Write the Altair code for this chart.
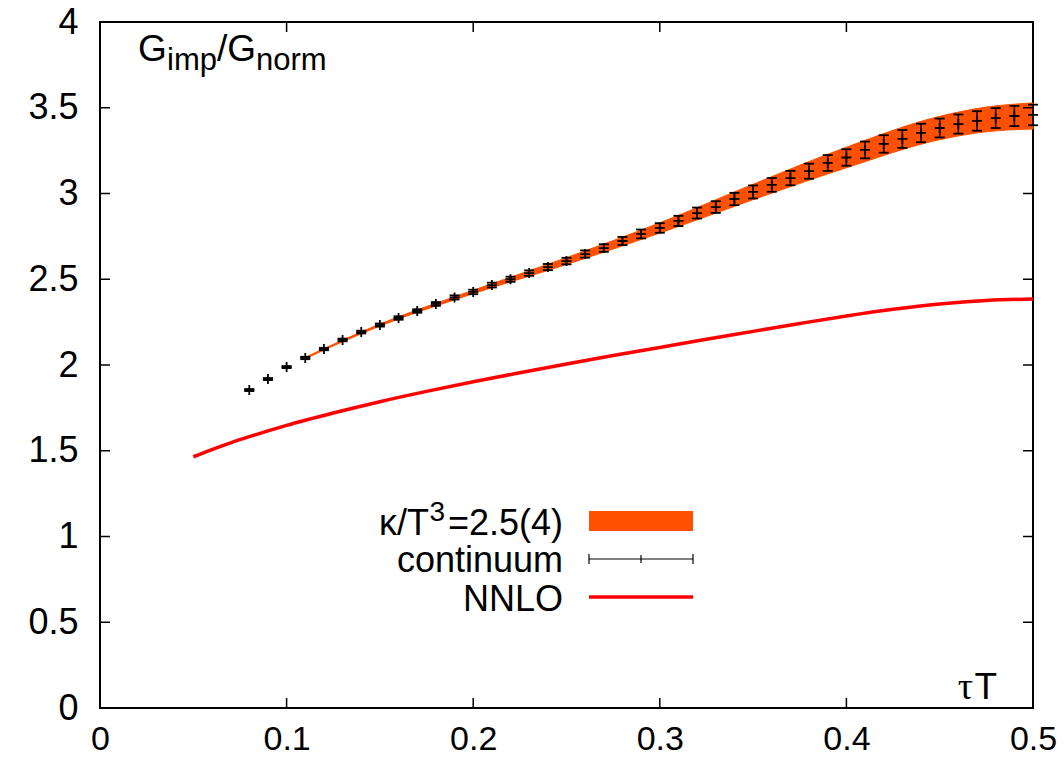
import altair as alt
import pandas as pd

# ---- data ----
tau = [0.08, 0.09, 0.10, 0.11, 0.12, 0.13, 0.14, 0.15, 0.16, 0.17, 0.18, 0.19, 0.20,
       0.21, 0.22, 0.23, 0.24, 0.25, 0.26, 0.27, 0.28, 0.29, 0.30,
       0.31, 0.32, 0.33, 0.34, 0.35, 0.36, 0.37, 0.38, 0.39, 0.40,
       0.41, 0.42, 0.43, 0.44, 0.45, 0.46, 0.47, 0.48, 0.49, 0.50]
g_cont = [1.854, 1.918, 1.988, 2.041, 2.093, 2.146, 2.192, 2.233, 2.274, 2.315, 2.356, 2.394, 2.426,
          2.466, 2.500, 2.536, 2.571, 2.606, 2.647, 2.682, 2.723, 2.764, 2.799,
          2.840, 2.886, 2.921, 2.968, 3.009, 3.050, 3.090, 3.130, 3.178, 3.210,
          3.254, 3.289, 3.318, 3.353, 3.382, 3.405, 3.423, 3.440, 3.452, 3.458]
g_err = [0.006, 0.006, 0.006, 0.007, 0.007, 0.008, 0.008, 0.009, 0.010, 0.010, 0.011, 0.012, 0.013,
         0.014, 0.015, 0.016, 0.018, 0.019, 0.021, 0.022, 0.024, 0.026, 0.028,
         0.030, 0.032, 0.034, 0.036, 0.038, 0.040, 0.042, 0.044, 0.046, 0.048,
         0.049, 0.051, 0.052, 0.054, 0.055, 0.056, 0.057, 0.058, 0.059, 0.060]

band_tau = [0.11, 0.15, 0.20, 0.25, 0.30, 0.35, 0.40, 0.45, 0.475, 0.50]
band_lo = [2.037, 2.227, 2.416, 2.586, 2.769, 2.964, 3.150, 3.314, 3.360, 3.376]
band_hi = [2.045, 2.239, 2.436, 2.626, 2.829, 3.054, 3.270, 3.450, 3.504, 3.528]

nnlo_tau = [0.05, 0.06, 0.07, 0.08, 0.09, 0.10, 0.125, 0.15, 0.175, 0.20, 0.225, 0.25,
            0.275, 0.30, 0.325, 0.35, 0.375, 0.40, 0.425, 0.45, 0.475, 0.50]
nnlo_g = [1.465, 1.507, 1.546, 1.582, 1.616, 1.648, 1.720, 1.786, 1.846, 1.902, 1.955, 2.006,
          2.055, 2.102, 2.150, 2.196, 2.242, 2.286, 2.325, 2.356, 2.376, 2.385]

x_tick_values = [0, 0.1, 0.2, 0.3, 0.4, 0.5]
y_tick_values = [0, 0.5, 1, 1.5, 2, 2.5, 3, 3.5, 4]
x_inner_ticks = [0.1, 0.2, 0.3, 0.4]
y_inner_ticks = [0.5, 1, 1.5, 2, 2.5, 3, 3.5]

# ---- tables ----
pts = pd.DataFrame({"tau": tau, "g": g_cont, "err": g_err})
pts["lo"] = pts["g"] - pts["err"]
pts["hi"] = pts["g"] + pts["err"]
band = pd.DataFrame({"tau": band_tau, "lo": band_lo, "hi": band_hi})
nnlo = pd.DataFrame({"tau": nnlo_tau, "g": nnlo_g})
xt = pd.DataFrame({"v": x_inner_ticks})
yt = pd.DataFrame({"v": y_inner_ticks})
one = pd.DataFrame({"a": [0]})

W, H = 933, 686
FONT = "Liberation Sans"

xscale = alt.Scale(domain=[0, 0.5], nice=False, zero=False)
yscale = alt.Scale(domain=[0, 4], nice=False, zero=False)

xaxis = alt.Axis(values=x_tick_values, format="~g", ticks=False, domain=False, grid=False,
                 title=None, labelFontSize=34, labelFont=FONT, labelColor="black",
                 labelPadding=14, labelFlush=False, labelOverlap=False)
yaxis = alt.Axis(values=y_tick_values, format="~g", ticks=False, domain=False, grid=False,
                 title=None, labelFontSize=36, labelFont=FONT, labelColor="black",
                 labelPadding=22, labelFlush=False, labelOverlap=False)

X = alt.X("tau:Q", scale=xscale, axis=xaxis)

band_layer = alt.Chart(band).mark_area(color="#ff5000", interpolate="monotone",
                                       stroke="#ff5000", strokeWidth=1).encode(
    x=X, y=alt.Y("lo:Q", scale=yscale, axis=yaxis), y2="hi:Q")

nnlo_layer = alt.Chart(nnlo).mark_line(color="#ff0000", strokeWidth=3.5,
                                       interpolate="monotone").encode(
    x="tau:Q", y="g:Q")

err_rule = alt.Chart(pts).mark_rule(color="black", strokeWidth=1.5).encode(
    x="tau:Q", y="lo:Q", y2="hi:Q")
cap_lo = alt.Chart(pts).mark_point(shape="M-1,0L1,0", size=100, filled=False,
                                   color="black", strokeWidth=1.8, opacity=1).encode(
    x="tau:Q", y="lo:Q")
cap_hi = alt.Chart(pts).mark_point(shape="M-1,0L1,0", size=100, filled=False,
                                   color="black", strokeWidth=1.8, opacity=1).encode(
    x="tau:Q", y="hi:Q")
centre = alt.Chart(pts).mark_point(shape="M-1,0L1,0M0,-1L0,1", size=100, filled=False,
                                   color="black", strokeWidth=1.8, opacity=1).encode(
    x="tau:Q", y="g:Q")

# inward mirrored ticks
tk = dict(color="black", strokeWidth=1.5)
xt_bot = alt.Chart(xt).mark_rule(**tk).encode(x="v:Q", y=alt.value(H), y2=alt.value(H - 10))
xt_top = alt.Chart(xt).mark_rule(**tk).encode(x="v:Q", y=alt.value(0), y2=alt.value(10))
yt_left = alt.Chart(yt).mark_rule(**tk).encode(y="v:Q", x=alt.value(0), x2=alt.value(10))
yt_right = alt.Chart(yt).mark_rule(**tk).encode(y="v:Q", x=alt.value(W), x2=alt.value(W - 10))


def txt(text, x, y, size, align="left", font=FONT):
    return alt.Chart(one).mark_text(text=text, align=align, baseline="alphabetic",
                                    fontSize=size, font=font, color="black").encode(
        x=alt.value(x), y=alt.value(y))


# y label G_imp/G_norm
lab = [
    txt("G", 38, 39, 37),
    txt("imp", 67, 48, 31),
    txt("/G", 117, 39, 37),
    txt("norm", 156, 48, 31),
]
# x label
lab += [
    txt("τ", 873, 677, 38, align="right", font="Liberation Serif"),
    txt("T", 897, 677, 37, align="right"),
]
# legend
lab += [
    txt("=2.5(4)", 463, 513, 36, align="right"),
    txt("3", 345, 499, 28, align="right"),
    txt("κ/T", 329, 513, 36, align="right"),
    txt("continuum", 463, 550, 36, align="right"),
    txt("NNLO", 463, 589, 36, align="right"),
]
leg_band = alt.Chart(one).mark_rect(color="#ff5000").encode(
    x=alt.value(489), x2=alt.value(593), y=alt.value(489), y2=alt.value(509))
leg_err = [
    alt.Chart(one).mark_rule(color="black", strokeWidth=1.2).encode(
        x=alt.value(489), x2=alt.value(593), y=alt.value(537)),
    alt.Chart(one).mark_rule(color="black", strokeWidth=1.2).encode(
        x=alt.value(489), y=alt.value(532), y2=alt.value(542)),
    alt.Chart(one).mark_rule(color="black", strokeWidth=1.2).encode(
        x=alt.value(593), y=alt.value(532), y2=alt.value(542)),
    alt.Chart(one).mark_rule(color="black", strokeWidth=1.2).encode(
        x=alt.value(541), y=alt.value(533), y2=alt.value(541)),
]
leg_nnlo = alt.Chart(one).mark_rule(color="#ff0000", strokeWidth=3.5).encode(
    x=alt.value(489), x2=alt.value(593), y=alt.value(575))

chart = alt.layer(
    band_layer, nnlo_layer, err_rule, cap_lo, cap_hi, centre,
    xt_bot, xt_top, yt_left, yt_right,
    leg_band, *leg_err, leg_nnlo, *lab
).properties(
    width=W, height=H,
    autosize=alt.AutoSizeParams(type="none"),
    padding={"left": 100, "top": 22, "right": 31, "bottom": 56},
    background="white",
).configure_view(stroke="black", strokeWidth=2)

chart.save("out.html", embed_options={"renderer": "svg", "actions": False})
